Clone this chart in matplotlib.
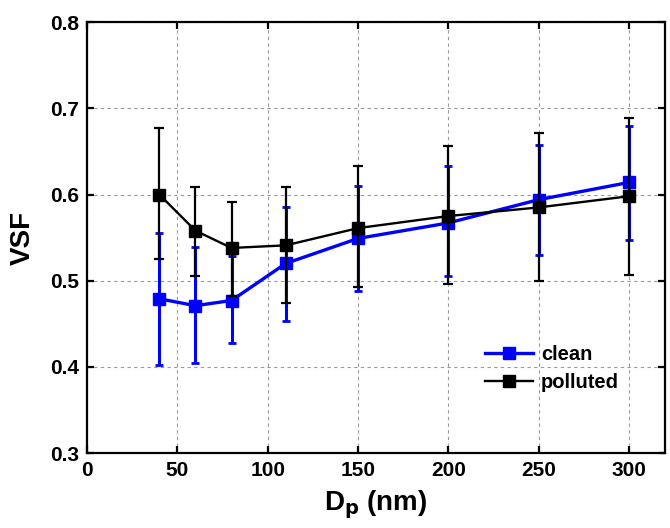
import matplotlib.pyplot as plt
from matplotlib.lines import Line2D

plt.rcParams['font.family'] = ['Liberation Sans', 'DejaVu Sans']
plt.rcParams['font.weight'] = 'bold'

# diametro das particulas (nm)
dp = [40, 60, 80, 110, 150, 200, 250, 300]

# clean
vsf_clean = [0.479, 0.471, 0.477, 0.520, 0.549, 0.567, 0.594, 0.614]
clean_sup = [0.555, 0.539, 0.529, 0.586, 0.610, 0.633, 0.657, 0.680]
clean_inf = [0.402, 0.404, 0.428, 0.453, 0.488, 0.506, 0.530, 0.547]

# polluted
vsf_pol = [0.600, 0.558, 0.538, 0.541, 0.561, 0.575, 0.585, 0.598]
pol_sup = [0.677, 0.609, 0.591, 0.609, 0.633, 0.656, 0.671, 0.689]
pol_inf = [0.525, 0.505, 0.482, 0.474, 0.493, 0.496, 0.500, 0.507]

err_clean = [[v - l for v, l in zip(vsf_clean, clean_inf)],
             [u - v for v, u in zip(vsf_clean, clean_sup)]]
err_pol = [[v - l for v, l in zip(vsf_pol, pol_inf)],
           [u - v for v, u in zip(vsf_pol, pol_sup)]]

fig = plt.figure(figsize=(6.7, 5.28), dpi=100)
ax = fig.add_axes([0.130, 0.142, 0.8625, 0.816])

ax.errorbar(dp, vsf_clean, yerr=err_clean, color='#0000ff', marker='s',
            markersize=8.5, linewidth=2.4, elinewidth=2.2, capsize=3,
            capthick=2, zorder=3)
ax.errorbar(dp, vsf_pol, yerr=err_pol, color='black', marker='s',
            markersize=8, linewidth=1.7, elinewidth=1.6, capsize=3.8,
            capthick=1.6, zorder=4)

ax.set_xlim(0, 320)
ax.set_ylim(0.3, 0.8)
ax.set_xticks([0, 50, 100, 150, 200, 250, 300])
ax.set_yticks([0.3, 0.4, 0.5, 0.6, 0.7, 0.8])
ax.grid(True, linestyle=(0, (3, 3)), color='#999999', linewidth=0.8)
ax.set_axisbelow(True)

ax.tick_params(direction='in', length=5, width=1.6, labelsize=15,
               top=True, right=True, pad=6)
for lbl in ax.get_xticklabels() + ax.get_yticklabels():
    lbl.set_fontweight('bold')
for s in ax.spines.values():
    s.set_linewidth(1.6)

ax.set_xlabel(r'D$_\mathbf{p}$ (nm)', fontsize=20, fontweight='bold', labelpad=6)
ax.set_ylabel('VSF', fontsize=20, fontweight='bold', labelpad=10)

# legenda sem as barras de erro
h_clean = Line2D([], [], color='#0000ff', marker='s', markersize=8.5, linewidth=2.4)
h_pol = Line2D([], [], color='black', marker='s', markersize=8, linewidth=1.7)
ax.legend([h_clean, h_pol], ['clean', 'polluted'], loc='upper left',
          bbox_to_anchor=(0.688, 0.25), frameon=False,
          fontsize=14.5, handlelength=2.4, handletextpad=0.4,
          labelspacing=0.42, borderpad=0, borderaxespad=0)

plt.savefig('out.png', dpi=100)
